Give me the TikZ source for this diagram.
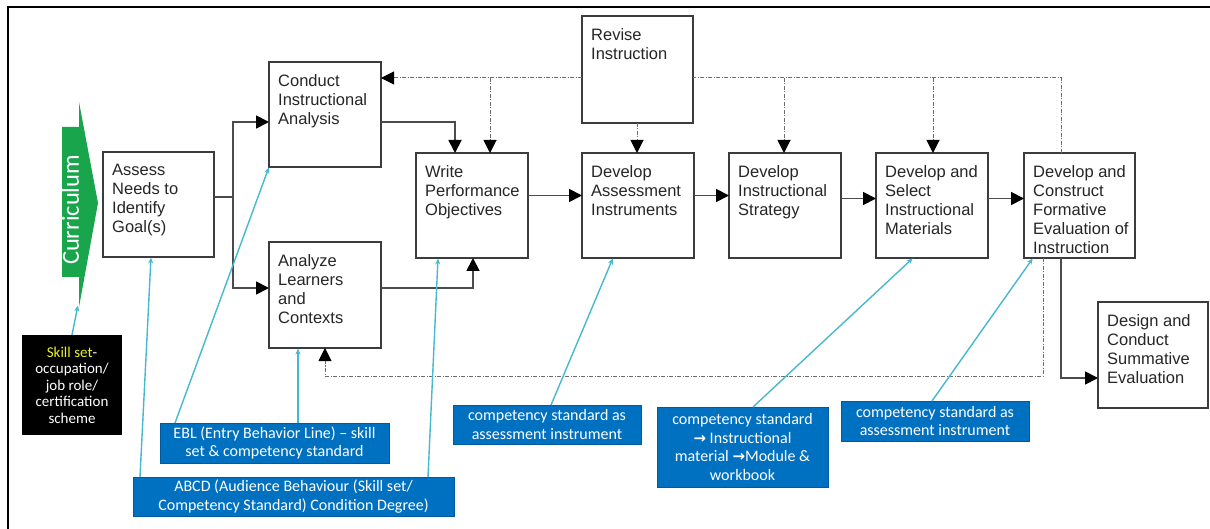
\documentclass[tikz,border=0pt]{standalone}
\usepackage{fontspec}
\setmainfont{Liberation Sans}
\newfontfamily\calfont{Carlito}
\newfontfamily\djvfont{DejaVu Sans}
\usetikzlibrary{arrows.meta}
\definecolor{boxline}{RGB}{60,60,60}
\definecolor{flowline}{RGB}{75,75,75}
\definecolor{fbline}{RGB}{110,110,110}
\definecolor{cyanline}{RGB}{70,185,205}
\definecolor{cblue}{RGB}{0,112,192}
\definecolor{cblueborder}{RGB}{0,90,160}
\definecolor{currgreen}{RGB}{24,165,76}
\definecolor{skillyellow}{RGB}{235,240,40}
\tikzset{
  box/.style={draw=boxline, line width=1.8pt, fill=white, inner sep=0pt, outer sep=0pt, anchor=north west},
  boxtext/.style={inner sep=0pt, anchor=north west, align=left, font=\fontsize{16.5}{19}\selectfont, text=black!85},
  bluebox/.style={fill=cblue, draw=cblueborder, line width=0.8pt, text=white, align=center, inner sep=0pt, outer sep=0pt, anchor=north west, font=\calfont\fontsize{16}{18.5}\selectfont},
  flow/.style={draw=flowline, line width=1.8pt, -{Triangle[length=13pt,width=13pt,black]}},
  flowplain/.style={draw=flowline, line width=1.8pt},
  fb/.style={draw=fbline, line width=1pt, dash pattern=on 4pt off 1.5pt on 1pt off 1.5pt, -{Triangle[length=13pt,width=13pt,black]}},
  fbplain/.style={draw=fbline, line width=1pt, dash pattern=on 4pt off 1.5pt on 1pt off 1.5pt},
  link/.style={draw=cyanline, line width=1.4pt, -{Stealth[length=6pt,width=5pt]}, shorten >=0.5pt},
  arrowglyph/.style={},
}
\newcommand\procbox[6]{%
  \node[box, minimum width=#4pt, minimum height=#5pt] (#1) at (#2,#3) {};
  \node[boxtext] (#1t) at ([xshift=9pt,yshift=-12pt]#1.north west) {#6};}
\newcommand\rarrowglyph{{\djvfont\bfseries\fontsize{15}{18.5}\selectfont →}}
\begin{document}
\begin{tikzpicture}[x=1pt,y=-1pt]
\useasboundingbox (0,0) rectangle (1210,529);
\fill[white] (0,0) rectangle (1210,529);
% frame
\draw[line width=2.2pt] (8,529) -- (8,7) -- (1210,7);

% curriculum arrow
\fill[currgreen] (62,127) -- (79,127) -- (79,102) -- (98,203) -- (79,307) -- (79,277) -- (62,277) -- cycle;
\node[rotate=90, text=white, inner sep=0pt, font=\calfont\fontsize{24.5}{24.5}\selectfont] (curr) at (70.5,210) {Curriculum};
\coordinate (currbot) at (78,305);

% process boxes
\procbox{assess}{103}{152}{111}{105}{Assess\\Needs to\\Identify\\Goal(s)}
\procbox{conduct}{269}{62}{112}{105}{Conduct\\Instructional\\Analysis}
\procbox{analyze}{269}{242}{112}{106}{Analyze\\Learners\\and\\Contexts}
\procbox{write}{416}{153}{112}{105}{Write\\Performance\\Objectives}
\procbox{revise}{582}{16}{111}{107}{Revise\\Instruction}
\procbox{devassess}{582}{153}{112}{105}{Develop\\Assessment\\Instruments}
\procbox{strategy}{729}{153}{112}{105}{Develop\\Instructional\\Strategy}
\procbox{select}{876}{153}{112}{105}{Develop and\\Select\\Instructional\\Materials}
\procbox{construct}{1024}{153}{111}{105}{Develop and\\Construct\\Formative\\Evaluation of\\Instruction}
\procbox{design}{1098}{302}{110}{106}{Design and\\Conduct\\Summative\\Evaluation}

% annotation boxes
\node[fill=black, minimum width=100pt, minimum height=100pt, anchor=north west, inner sep=0pt, outer sep=0pt, text=white, align=center, font=\calfont\fontsize{15}{16.5}\selectfont] (skill) at (22,335) {{\color{skillyellow}Skill set}-\\occupation/\\job role/\\certification\\scheme};
\node[bluebox, minimum width=229pt, minimum height=40pt] (ebl) at (160,423) {EBL (Entry Behavior Line) – skill\\set \& competency standard};
\node[bluebox, minimum width=321pt, minimum height=39pt] (abcd) at (133,477) {ABCD (Audience Behaviour (Skill set/\\Competency Standard) Condition Degree)};
\node[bluebox, minimum width=188pt, minimum height=39pt] (comp1) at (453,405) {competency standard as\\assessment instrument};
\node[bluebox, minimum width=171pt, minimum height=80pt] (comp2) at (657,407) {competency standard\\\rarrowglyph{} Instructional\\material \rarrowglyph{}Module \&\\workbook};
\node[bluebox, minimum width=188pt, minimum height=40pt] (comp3) at (841,401) {competency standard as\\assessment instrument};

% solid flow connectors
\coordinate (ja) at (233,197);
\coordinate (jc) at (233,122);
\coordinate (jn) at (233,288);
\draw[flowplain] (assess.east |- ja) -- (ja);
\draw[flow] (ja) -- (jc) -- (conduct.west |- jc);
\draw[flow] (ja) -- (jn) -- (analyze.west |- jn);
\coordinate (cw) at (455,122);
\draw[flow] (conduct.east |- cw) -| (write.north -| cw);
\coordinate (aw) at (473,288);
\draw[flow] (analyze.east |- aw) -| (write.south -| aw);
\draw[flow] ([yshift=10pt]write.east) -- ([yshift=10pt]devassess.west);
\draw[flow] ([yshift=10pt]devassess.east) -- ([yshift=10pt]strategy.west);
\draw[flow] ([yshift=7pt]strategy.east) -- ([yshift=7pt]select.west);
\draw[flow] ([yshift=7pt]select.east) -- ([yshift=7pt]construct.west);
\coordinate (cd) at (1061,378);
\draw[flow] (construct.south -| cd) -- (cd) -- (design.west |- cd);

% dashed feedback connectors
\coordinate (t1) at (1061,78);
\draw[fbplain] (construct.north -| t1) -- (t1) -- (revise.east |- t1);
\draw[fb] (revise.west |- t1) -- (conduct.east |- t1);
\coordinate (d1) at (490,78);
\draw[fb] (d1) -- (write.north -| d1);
\coordinate (d3) at (784,78);
\draw[fb] (d3) -- (strategy.north -| d3);
\coordinate (d4) at (933,78);
\draw[fb] (d4) -- (select.north -| d4);
\coordinate (d2) at (637,0);
\draw[fb] (revise.south -| d2) -- (devassess.north -| d2);
\coordinate (b1) at (1043,376);
\coordinate (b2) at (325,376);
\draw[fb] (construct.south -| b1) -- (b1) -- (b2) -- (analyze.south -| b2);

% cyan links
\draw[link] (skill.north) -- (currbot);
\draw[link] ([xshift=15pt]ebl.north west) -- (conduct.south west);
\coordinate (xan) at (298,0);
\draw[link] (ebl.north -| xan) -- (analyze.south -| xan);
\draw[link] ([xshift=7pt]abcd.north west) -- ([xshift=48pt]assess.south west);
\draw[link] ([xshift=-26pt]abcd.north east) -- ([xshift=22pt]write.south west);
\draw[link] ([xshift=98pt]comp1.north west) -- ([xshift=31pt]devassess.south west);
\draw[link] ([xshift=96pt]comp2.north west) -- ([xshift=37pt]select.south west);
\draw[link] ([xshift=91pt]comp3.north west) -- ([xshift=9pt]construct.south west);
\end{tikzpicture}
\end{document}
